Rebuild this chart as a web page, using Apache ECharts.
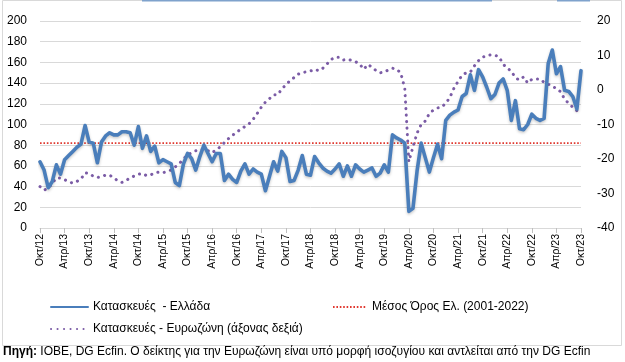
<!DOCTYPE html>
<html>
<head>
<meta charset="utf-8">
<script src="https://cdn.jsdelivr.net/npm/echarts@6/dist/echarts.min.js"></script>
<style>
html,body{margin:0;padding:0;background:#fff;}
#chart{width:625px;height:362px;}
</style>
</head>
<body>
<div id="chart"></div>
<script>
// Month abbreviations used to build the monthly categories (Oct 2012 - Oct 2023)
const monthNames = ['Ιαν','Φεβ','Μαρ','Απρ','Μαϊ','Ιουν','Ιουλ','Αυγ','Σεπ','Οκτ','Νοε','Δεκ'];
const startMonth = 9;   // October
const startYear = 12;   // 2012
const nMonths = 133;
const categories = [];
for (let k = 0; k < nMonths; k++) {
  const m = (startMonth + k) % 12;
  const y = startYear + Math.floor((startMonth + k) / 12);
  categories.push(monthNames[m] + '/' + y);
}

// Κατασκευές - Ελλάδα (left axis)
const greece = [
  64,56,39,45,61,52,66,70,74,78,81,99,83,82,63,83,89,92,90,90,
  93,93,92,80,98,77,89,74,79,63,66,64,62,44,41,62,72,67,56,69,
  80,72,64,72,72,46,52,47,44,55,62,52,57,54,52,36,50,64,55,74,
  68,45,46,56,70,52,51,69,63,58,55,53,57,62,50,60,50,61,57,54,
  56,58,50,53,61,54,90,87,85,82,16,19,55,82,68,54,68,81,67,104,
  109,112,114,127,130,148,133,153,146,136,125,129,140,144,133,104,123,96,95,100,
  110,106,104,106,159,172,149,156,133,132,127,115,152
];

// Κατασκευές - Ευρωζώνη (right axis, balance)
const eurozone = [
  -28,-29,-28.5,-27,-25.5,-25.5,-26,-26.6,-27,-26.5,-25.8,-24,-24.2,-25,-25.4,-25,-24.7,-24.7,-25.5,-26.3,
  -26.8,-26.2,-25.5,-24.9,-24.4,-24.2,-24.8,-24.6,-24,-23.8,-24,-23.6,-23.2,-22.3,-21.3,-20,-18.8,-18.2,-17.6,-17.4,
  -17.1,-17.6,-18.2,-17.3,-16.5,-15.2,-14.1,-13.1,-12.3,-11.3,-10.6,-9.8,-8.5,-6.8,-5,-3.5,-2.5,-1.4,-1.4,0.3,
  1.5,2.7,3.6,4.6,5,5.3,5.5,6,5.6,6.3,7.5,8.8,9.5,9.5,8.7,8.9,8.6,8.2,7.5,6,
  7.4,6.6,5.6,5,5.2,5.8,6.3,6,5,0.5,-20.8,-16.5,-12.5,-10,-9,-6.8,-5.8,-5.2,-5,-3.8,
  -2.2,0.5,2.5,4.3,5,5.2,7,8.5,9.5,10,10.2,10.1,9.6,7.5,6.3,5.5,3.5,2.9,3.8,2,
  3.1,3.2,3.2,2.2,1.7,1,0.5,-0.5,-2.6,-3.9,-5,-6,null
];

// Μέσος Όρος Ελ. (2001-2022)
const meanValue = 82;
const meanLine = categories.map(() => meanValue);

const nameGR = 'Κατασκευές  - Ελλάδα';
const nameMean = 'Μέσος Όρος Ελ. (2001-2022)';
const nameEZ = 'Κατασκευές - Ευρωζώνη (άξονας δεξιά)';

const FONT = '"Liberation Sans", Arial, sans-serif';
const legendText = {fontFamily: FONT, fontSize: 12, color: '#000'};
const legendItemStyle = {opacity: 0};

const chart = echarts.init(document.getElementById('chart'), null, {renderer: 'canvas'});
chart.setOption({
  animation: false,
  backgroundColor: '#ffffff',
  textStyle: {fontFamily: FONT, color: '#000'},
  grid: {left: 40, right: 44, top: 21, bottom: 134, containLabel: false},
  legend: [
    {data: [nameGR], left: 45, top: 296, itemWidth: 37, itemHeight: 14, itemGap: 5,
     itemStyle: legendItemStyle, textStyle: legendText},
    {data: [nameMean], left: 327, top: 296, itemWidth: 34, itemHeight: 14, itemGap: 5,
     itemStyle: legendItemStyle, textStyle: legendText},
    {data: [nameEZ], left: 45, top: 318, itemWidth: 37, itemHeight: 14, itemGap: 5,
     itemStyle: legendItemStyle, textStyle: legendText}
  ],
  xAxis: {
    type: 'category',
    data: categories,
    boundaryGap: false,
    axisLine: {lineStyle: {color: '#d9d9d9', width: 1}},
    axisTick: {show: true, interval: 5, length: 5, lineStyle: {color: '#bfbfbf'}},
    axisLabel: {interval: 5, rotate: 90, fontSize: 10.5, color: '#000', margin: 6, fontFamily: FONT},
    splitLine: {show: false}
  },
  yAxis: [
    {
      type: 'value', position: 'left', min: 0, max: 200, interval: 20,
      axisLine: {show: false}, axisTick: {show: false},
      axisLabel: {fontSize: 12, color: '#000', margin: 13, fontFamily: FONT},
      splitLine: {show: true, lineStyle: {color: '#d9d9d9', width: 1}}
    },
    {
      type: 'value', position: 'right', min: -40, max: 20, interval: 10,
      axisLine: {show: false}, axisTick: {show: false},
      axisLabel: {fontSize: 12, color: '#000', margin: 16, fontFamily: FONT},
      splitLine: {show: false}
    }
  ],
  series: [
    {
      name: nameMean, type: 'line', yAxisIndex: 0, data: meanLine,
      symbol: 'none', z: 2,
      lineStyle: {color: '#e0382f', width: 1.6, type: [1.6, 1.8]},
      itemStyle: {color: '#e0382f'}
    },
    {
      name: nameEZ, type: 'line', yAxisIndex: 1, data: eurozone,
      symbol: 'none', z: 3, connectNulls: false,
      lineStyle: {color: '#7b5ca6', width: 3, type: [0.1, 6.4], cap: 'round'},
      itemStyle: {color: '#7b5ca6'}
    },
    {
      name: nameGR, type: 'line', yAxisIndex: 0, data: greece,
      symbol: 'none', z: 4,
      lineStyle: {color: '#4a7ebb', width: 3.6, cap: 'round', join: 'round',
                  shadowColor: 'rgba(0,0,0,0.22)', shadowBlur: 3, shadowOffsetY: 1.5},
      itemStyle: {color: '#4a7ebb'}
    }
  ],
  graphic: [
    {type: 'rect', shape: {x: 2.5, y: 0.5, width: 619, height: 345}, silent: true,
     style: {fill: 'none', stroke: '#d9d9d9', lineWidth: 1}, z: -1},
    {type: 'line', shape: {x1: 142, y1: 0.5, x2: 492, y2: 0.5}, silent: true,
     style: {stroke: '#7fa2cc', lineWidth: 2}},
    {type: 'line', shape: {x1: 557, y1: 0.5, x2: 590, y2: 0.5}, silent: true,
     style: {stroke: '#7fa2cc', lineWidth: 2}},
    {type: 'text', left: 3, top: 346, silent: true,
     style: {
       text: '{b|Πηγή:} ΙΟΒΕ, DG Ecfin. Ο δείκτης για την Ευρωζώνη είναι υπό μορφή ισοζυγίου και αντλείται από την DG Ecfin',
       font: '12px ' + FONT, fill: '#000',
       rich: {b: {fontWeight: 'bold', fontSize: 12, fontFamily: FONT, fill: '#000'}}
     }}
  ]
});
</script>
</body>
</html>
